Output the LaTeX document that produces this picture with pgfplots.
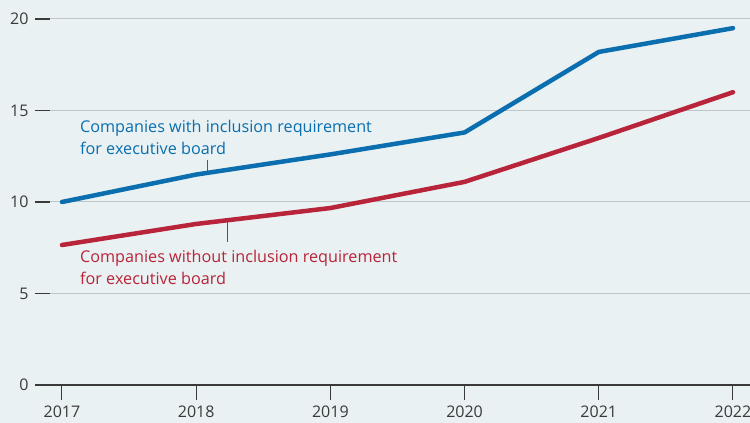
\documentclass[border=0pt]{standalone}
\usepackage{pgfplots}
\pgfplotsset{compat=1.18}
\usepackage{fontspec}
\setmainfont{Open Sans}
\definecolor{bgc}{HTML}{E9F1F2}
\definecolor{gridc}{HTML}{BFC6C8}
\definecolor{txtc}{HTML}{3A3A3A}
\definecolor{blueline}{HTML}{0A6EAF}
\definecolor{redline}{HTML}{B8243A}
\begin{document}
\fontsize{16.2bp}{22bp}\selectfont
\begin{tikzpicture}
\path[use as bounding box, fill=bgc] (0,0) rectangle (750bp,423bp);
\begin{axis}[
  at={(35bp,38bp)}, anchor=south west,
  scale only axis, width=715bp, height=366bp,
  xmin=2016.799, xmax=2022.127, ymin=0, ymax=20,
  axis line style={draw=none},
  xtick={2017,2018,2019,2020,2021,2022},
  ytick={0,5,10,15,20},
  xtick pos=bottom, ytick pos=left,
  x tick style={draw=txtc, line width=1bp},
  y tick style={draw=txtc, line width=1.2bp},
  xtick align=outside, ytick align=inside,
  major tick length=15bp,
  ymajorgrids, grid style={draw=gridc, line width=1bp},
  tick label style={font=\fontsize{16bp}{18bp}\selectfont, text=txtc},
  /pgf/number format/.cd, 1000 sep={}, assume math mode=true, /pgfplots/.cd,
  yticklabel style={xshift=-1bp},
  clip=false,
]
\draw[txtc, line width=1.2bp] (axis cs:2016.799,0) -- (axis cs:2022.127,0);
\addplot[blueline, line width=4.5bp, line cap=round, line join=round] coordinates {
(2017,10.0) (2018,11.5) (2019,12.6) (2020,13.8) (2021,18.2) (2022,19.5)};
\addplot[redline, line width=4.5bp, line cap=round, line join=round] coordinates {
(2017,7.65) (2018,8.8) (2019,9.67) (2020,11.1) (2021,13.5) (2022,16.0)};
\draw[blueline, line width=1bp] (axis cs:2018.088,12.30) -- (axis cs:2018.088,11.64);
\draw[redline, line width=1bp] (axis cs:2018.23,9.0) -- (axis cs:2018.23,7.81);
\node[anchor=west, align=left, inner sep=0pt, text=blueline] at (axis cs:2017.134,13.52) {Companies with inclusion requirement\\for executive board};
\node[anchor=west, align=left, inner sep=0pt, text=redline] at (axis cs:2017.134,6.45) {Companies without inclusion requirement\\for executive board};
\end{axis}
\end{tikzpicture}
\end{document}
